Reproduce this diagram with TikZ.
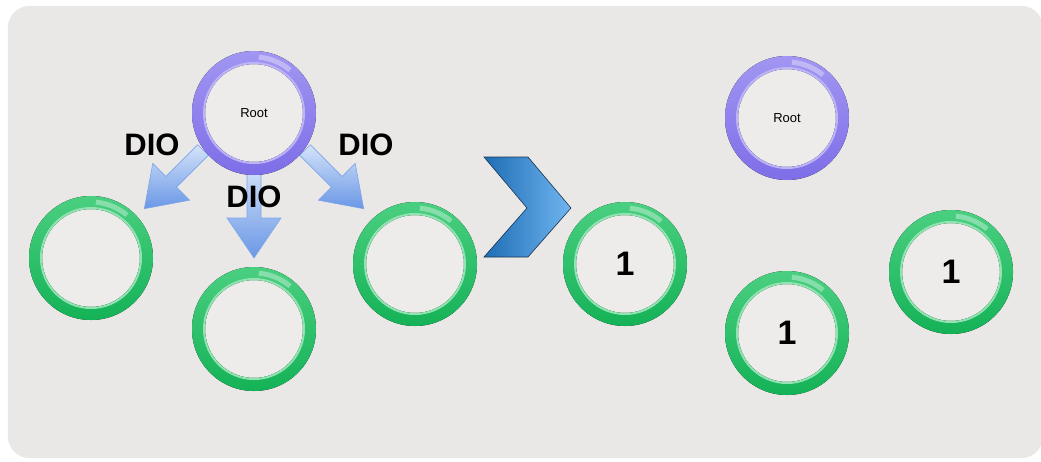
\documentclass[tikz,border=0pt]{standalone}
\usepackage{fontspec}
\setmainfont{Liberation Sans}
\usetikzlibrary{calc}
\definecolor{pagebg}{HTML}{E9E8E6}
\definecolor{ringin}{HTML}{EDECEA}
\definecolor{purpT}{HTML}{A196F2}
\definecolor{purpB}{HTML}{7E6EE8}
\definecolor{purpE}{HTML}{BDB4F6}
\definecolor{greenT}{HTML}{4ACF80}
\definecolor{greenB}{HTML}{14B257}
\definecolor{greenE}{HTML}{93E2B2}
\definecolor{arrowlight}{HTML}{D4E3F9}
\definecolor{arrowdark}{HTML}{6A97E6}
\definecolor{arrowedge}{HTML}{7FA5E9}
\definecolor{chevL}{HTML}{1E6DB4}
\definecolor{chevR}{HTML}{70B5F0}
\definecolor{chevE}{HTML}{1B3350}
\pgfdeclarelayer{bglayer}
\pgfdeclarelayer{midlayer}
\pgfsetlayers{bglayer,midlayer,main}
\newcommand{\drawring}[4]{%
  \fill[ringin] (#1) circle (49pt);
  \fill[even odd rule, top color=#2, bottom color=#3] (#1) circle (62pt) (#1) circle (49pt);
  \draw[#4, line width=2pt] (#1) circle (50pt);
  \draw[white, opacity=.35, line width=5pt] ($(#1)+(50:56pt)$) arc[start angle=50, end angle=85, radius=56pt];
}
\begin{document}
\begin{tikzpicture}[x=1pt,y=-1pt,
  ringnode/.style={circle, inner sep=0pt, minimum size=124pt, font=\fontsize{13}{13}\selectfont},
  numnode/.style={circle, inner sep=0pt, minimum size=124pt, font=\bfseries\fontsize{34}{34}\selectfont},
  diolabel/.style={inner sep=0pt, font=\bfseries\fontsize{31}{31}\selectfont},
  blockarrow/.style={draw=arrowedge, line width=0.6pt, top color=arrowlight, bottom color=arrowdark},
  chevron/.style={draw=chevE, line width=0.6pt, left color=chevL, right color=chevR}
]
\useasboundingbox (0,0) rectangle (1041,461);

% nodes
\node[ringnode] (R1) at (254,113) {Root};
\node[ringnode] (R2) at (787,118) {Root};
\node[numnode] (G1) at (91,258) {};
\node[numnode] (G2) at (254,329) {};
\node[numnode] (G3) at (415,264) {};
\node[numnode] (G4) at (625,264) {1};
\node[numnode] (G5) at (787,333) {1};
\node[numnode] (G6) at (951,272) {1};

\node[diolabel] (D1) at (152,145) {DIO};
\node[diolabel] (D2) at (254,197) {DIO};
\node[diolabel] (D3) at (366,145) {DIO};

\coordinate (a1) at ($(R1)+(-51,37)$);
\coordinate (a2) at ($(R1)+(0,52)$);
\coordinate (a3) at ($(R1)+(51,37)$);

\begin{pgfonlayer}{bglayer}
  \fill[white] (0,0) rectangle (1041,461);
  \fill[pagebg, draw=black!8, rounded corners=22pt] (8,6) rectangle (1043,458);
  % block arrows
  \begin{scope}[shift={(a1)}, rotate=-45]
    \path[blockarrow] (-7.5,0) -- (-7.5,45) -- (-26,45) -- (0,83) -- (26,45) -- (7.5,45) -- (7.5,0) -- cycle;
  \end{scope}
  \begin{scope}[shift={(a2)}]
    \path[blockarrow] (-7,0) -- (-7,53) -- (-27,53) -- (0,93) -- (27,53) -- (7,53) -- (7,0) -- cycle;
  \end{scope}
  \begin{scope}[shift={(a3)}, rotate=45]
    \path[blockarrow] (-7.5,0) -- (-7.5,45) -- (-26,45) -- (0,83) -- (26,45) -- (7.5,45) -- (7.5,0) -- cycle;
  \end{scope}
  % chevron
  \path[chevron] (484,157) -- (528,157) -- (571,208) -- (528,257) -- (484,257) -- (527,208) -- cycle;
\end{pgfonlayer}

\begin{pgfonlayer}{midlayer}
  \drawring{R1}{purpT}{purpB}{purpE}
  \drawring{R2}{purpT}{purpB}{purpE}
  \drawring{G1}{greenT}{greenB}{greenE}
  \drawring{G2}{greenT}{greenB}{greenE}
  \drawring{G3}{greenT}{greenB}{greenE}
  \drawring{G4}{greenT}{greenB}{greenE}
  \drawring{G5}{greenT}{greenB}{greenE}
  \drawring{G6}{greenT}{greenB}{greenE}
\end{pgfonlayer}
\end{tikzpicture}
\end{document}
